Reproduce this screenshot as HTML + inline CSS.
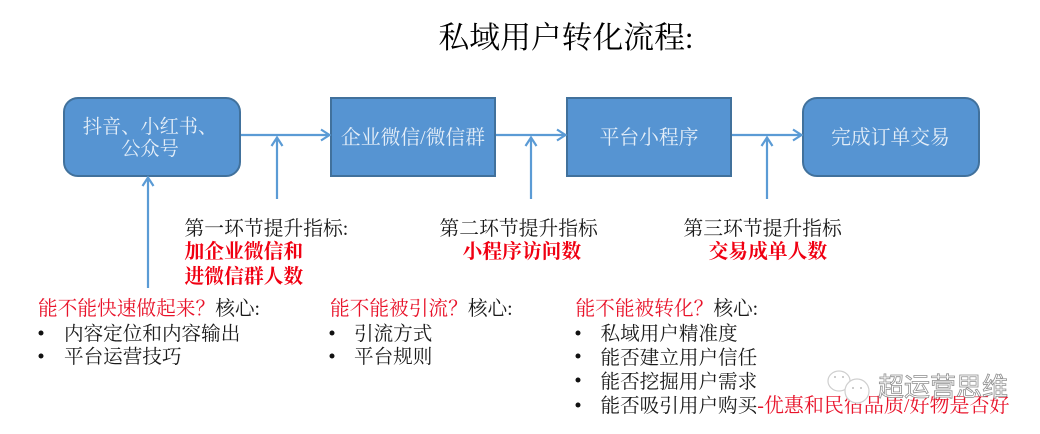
<!DOCTYPE html>
<html lang="zh">
<head>
<meta charset="utf-8">
<style>
html,body{margin:0;padding:0;background:#fff;width:1040px;height:434px;overflow:hidden}
svg{display:block}
text{font-family:"Liberation Serif","Noto Serif CJK SC",serif;font-size:19.7px;fill:#1a1a1a}
.w{fill:#e4eef8;text-anchor:middle;font-size:19.8px}
.r{fill:#e8132a}
.b{fill:#f00012;font-weight:700;font-family:"Liberation Serif","Noto Serif CJK SC",serif;font-size:19.8px}
.l{stroke:#5b9bd5;stroke-width:2.2;fill:none}
.n{fill:#5694d2;stroke:#41719c;stroke-width:2}
</style>
</head>
<body>
<svg width="1040" height="434" viewBox="0 0 1040 434" xmlns="http://www.w3.org/2000/svg">
<text x="438.500" y="48" style="font-size:30.8px;fill:#000">私域用户转化流程:</text>

<rect class="n" x="64" y="98" width="176" height="78" rx="14"/>
<rect class="n" x="331" y="98" width="164" height="78"/>
<rect class="n" x="567" y="98" width="164" height="78"/>
<rect class="n" x="803" y="98" width="176" height="78" rx="14"/>

<text class="w" x="150" y="133" style="font-size:19.2px">抖音、小红书、</text>
<text class="w" x="150" y="155" style="font-size:19.2px">公众号</text>
<text class="w" x="413" y="144">企业微信/微信群</text>
<text class="w" x="649" y="144">平台小程序</text>
<text class="w" x="890.500" y="144">完成订单交易</text>

<path class="l" d="M241 135H329M321 129.500L329.500 135L321 140.500"/>
<path class="l" d="M496 135H565M557 129.500L565.500 135L557 140.500"/>
<path class="l" d="M732 135H801M793 129.500L801.500 135L793 140.500"/>
<path class="l" d="M277 199V138M271.500 146L277 137.500L282.500 146"/>
<path class="l" d="M531 199V138M525.500 146L531 137.500L536.500 146"/>
<path class="l" d="M767 199V138M761.500 146L767 137.500L772.500 146"/>
<path class="l" d="M148 288V178M142.500 186L148 177.500L153.500 186"/>

<text x="184.500" y="235" style="font-size:19.8px">第一环节提升指标:</text>
<text class="b" x="184.500" y="258">加企业微信和</text>
<text class="b" x="184.500" y="283">进微信群人数</text>
<text x="439.500" y="235" style="font-size:19.8px">第二环节提升指标</text>
<text class="b" x="462.500" y="258">小程序访问数</text>
<text x="683.500" y="235" style="font-size:19.8px">第三环节提升指标</text>
<text class="b" x="708.500" y="258">交易成单人数</text>

<text x="38" y="315"><tspan class="r">能不能快速做起来？</tspan>核心:</text>
<circle cx="41" cy="333" r="2.500" fill="#111"/>
<text x="64" y="340" style="font-size:19.6px">内容定位和内容输出</text>
<circle cx="41" cy="356" r="2.500" fill="#111"/>
<text x="64" y="363" style="font-size:19.6px">平台运营技巧</text>

<text x="330" y="315"><tspan class="r">能不能被引流？</tspan>核心:</text>
<circle cx="332" cy="333" r="2.500" fill="#111"/>
<text x="354" y="340" style="font-size:19.6px">引流方式</text>
<circle cx="332" cy="356" r="2.500" fill="#111"/>
<text x="354" y="363" style="font-size:19.6px">平台规则</text>

<text x="575.500" y="315"><tspan class="r">能不能被转化？</tspan>核心:</text>
<circle cx="578" cy="333" r="2.500" fill="#111"/>
<text x="600.500" y="340" style="font-size:19.6px">私域用户精准度</text>
<circle cx="578" cy="356" r="2.500" fill="#111"/>
<text x="600.500" y="364" style="font-size:19.6px">能否建立用户信任</text>
<circle cx="578" cy="380" r="2.500" fill="#111"/>
<text x="600.500" y="388" style="font-size:19.6px">能否挖掘用户需求</text>
<circle cx="578" cy="405" r="2.500" fill="#111"/>
<text x="600.500" y="412" style="font-size:19.6px">能否吸引用户购买<tspan class="r" style="font-size:20px">-优惠和民宿品质/好物是否好</tspan></text>

<g fill="#fff" stroke="#cfcfcf" stroke-width="1.200">
<ellipse cx="839" cy="381" rx="11" ry="10"/>
<circle cx="857" cy="391" r="12"/>
</g>
<g fill="#bdbdbd"><circle cx="835" cy="377" r="1"/><circle cx="843" cy="377" r="1"/><circle cx="853" cy="388" r="1"/><circle cx="861" cy="388" r="1"/></g>
<text x="878" y="396" style="font-family:'Liberation Sans','Noto Sans CJK SC',sans-serif;font-size:26px;fill:#ffffff;stroke:#8f8f8f;stroke-width:.8px">超运营思维</text>
</svg>
</body>
</html>
